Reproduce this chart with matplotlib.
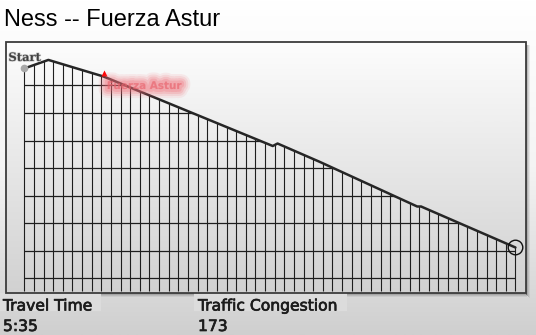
import numpy as np
import matplotlib
matplotlib.use("Agg")
import matplotlib.pyplot as plt
from matplotlib.colors import LinearSegmentedColormap
from matplotlib.patches import Rectangle, Polygon
from matplotlib.collections import LineCollection
import matplotlib.patheffects as pe

# ---------------- data ----------------
title = "Ness -- Fuerza Astur"
distance = [0.0, 2.5, 8.2, 16.2, 25.8, 26.3, 30.7, 40.8, 41.2, 51.0]
elevation = [862, 893, 833, 718, 580, 589, 522, 360, 360, 211]
grid_x = list(range(0, 52))
grid_y = [100, 200, 300, 400, 500, 600, 700, 800]
rider_pos = (8.3, 846)
rider_name = "Fuerza Astur"
stat_labels = ["Travel Time", "Traffic Congestion"]
stat_values = ["5:35", "173"]

# ---------------- figure ----------------
W, H = 536, 335
fig = plt.figure(figsize=(W / 100, H / 100), dpi=100)

bg = fig.add_axes([0, 0, 1, 1])
bg.set_xlim(0, W)
bg.set_ylim(H, 0)
bg.axis("off")
grad_cmap = LinearSegmentedColormap.from_list("g", ["#ffffff", "#f4f4f4", "#cfcfcf"])
grad = np.linspace(0, 1, 256).reshape(-1, 1)
bg.imshow(grad, cmap=grad_cmap, extent=[0, W, H, 0], aspect="auto", zorder=0)

# panel shadow
for k, a in enumerate([0.45, 0.3, 0.18, 0.08]):
    bg.add_patch(Rectangle((526 + k, 45), 1, 250 + k, color="#333333", alpha=a, lw=0, zorder=1))
    bg.add_patch(Rectangle((9, 293 + k), 518, 1, color="#333333", alpha=a, lw=0, zorder=1))

# label boxes
bg.add_patch(Rectangle((0, 293), 101, 18, color="#dcdcdc", lw=0, zorder=2))
bg.add_patch(Rectangle((194, 293), 153, 18, color="#dcdcdc", lw=0, zorder=2))

# title
bg.text(4, 26.5, title, fontsize=17, family="Liberation Sans", color="#000000",
        va="baseline", ha="left", zorder=3)

# stats
stat_x = [3, 198]
for sx, lab, val in zip(stat_x, stat_labels, stat_values):
    bg.text(sx, 310.5, lab, fontsize=11.2, family="DejaVu Sans", color="#1c1c1c",
            va="baseline", ha="left", zorder=3,
            path_effects=[pe.withStroke(linewidth=0.5, foreground="#1c1c1c")])
    bg.text(sx, 331, val, fontsize=11.2, family="DejaVu Sans", color="#1c1c1c",
            va="baseline", ha="left", zorder=3,
            path_effects=[pe.withStroke(linewidth=0.5, foreground="#1c1c1c")])

# ---------------- panel axes ----------------
px0, px1, py0, py1 = 6, 525, 42.5, 292
ax = fig.add_axes([px0 / W, 1 - py1 / H, (px1 - px0) / W, (py1 - py0) / H])
ax.set_xlim((px0 - 24.3) / 9.63, (px1 - 24.3) / 9.63)
ax.set_ylim((305.5 - py1) / 0.275, (305.5 - py0) / 0.275)
ax.axis("off")
ax.imshow(grad[::-1] * 0.9 + 0.05, cmap=LinearSegmentedColormap.from_list("p", ["#ffffff", "#cfcfcf"]),
          extent=[0, 1, 0, 1], transform=ax.transAxes, aspect="auto", zorder=0,
          vmin=0, vmax=1, origin="lower")

# clip region under the profile
x_arr = np.array(distance)
y_arr = np.array(elevation)
poly_pts = np.column_stack([
    np.concatenate([[x_arr[0] - 0.3], x_arr, [x_arr[-1] + 0.3, x_arr[-1] + 0.3, x_arr[0] - 0.3]]),
    np.concatenate([[y_arr[0]], y_arr, [y_arr[-1], 0, 0]]),
])
clip = Polygon(poly_pts, closed=True, facecolor="none", edgecolor="none")
ax.add_patch(clip)

y_bottom = (305.5 - 290.7) / 0.275
vsegs = [[(gx, y_bottom), (gx, 1000)] for gx in grid_x]
hsegs = [[(grid_x[0], gy), (grid_x[-1], gy)] for gy in grid_y]
vlc = LineCollection(vsegs, colors="#1e1e1e", linewidths=0.8, zorder=2)
hlc = LineCollection(hsegs, colors="#1e1e1e", linewidths=0.9, zorder=2)
ax.add_collection(vlc)
ax.add_collection(hlc)
vlc.set_clip_path(clip)
hlc.set_clip_path(clip)

ax.plot(distance, elevation, color="#262626", lw=1.8, solid_capstyle="round",
        solid_joinstyle="round", zorder=4)

# start marker and label
ax.plot(distance[0], elevation[0], "o", ms=5.5, color="#a8a8a8", mec="none", zorder=5)
ax.text(-1.65, 902, "Start", fontsize=8.3, family="DejaVu Serif", fontweight="bold",
        color="#3a3a3a", va="center", ha="left", zorder=6, alpha=0.9,
        path_effects=[pe.withStroke(linewidth=1.0, foreground="#c8c8c8")])

# end marker
ax.plot(distance[-1], elevation[-1], "o", ms=10.5, mfc="none", mec="#111111", mew=1.0, zorder=5)

# rider marker and blurred label
ax.plot(*rider_pos, marker="^", ms=5, color="#ff0000", mec="none", zorder=6)
lx, ly = rider_pos[0] + 0.25, rider_pos[1] - 48
for lw, a in [(13, 0.10), (10, 0.14), (7, 0.2), (4, 0.25)]:
    ax.text(lx, ly, rider_name, fontsize=7.5, family="DejaVu Sans",
            fontweight="bold", color="#ef6a74", alpha=0.0, va="center", ha="left", zorder=6,
            path_effects=[pe.withStroke(linewidth=lw, foreground="#ef6a74", alpha=a)])
ax.text(lx, ly, rider_name, fontsize=7.5, family="DejaVu Sans",
        fontweight="bold", color="#e4606a", alpha=0.35, va="center", ha="left", zorder=7)

# panel border
bg2 = fig.add_axes([0, 0, 1, 1], facecolor="none")
bg2.set_xlim(0, W)
bg2.set_ylim(H, 0)
bg2.axis("off")
bg2.add_patch(Rectangle((5.5, 42), 520, 250.5, fill=False, edgecolor="#3c3c3c", lw=1.3, zorder=10))

fig.savefig("out.png", dpi=100)
